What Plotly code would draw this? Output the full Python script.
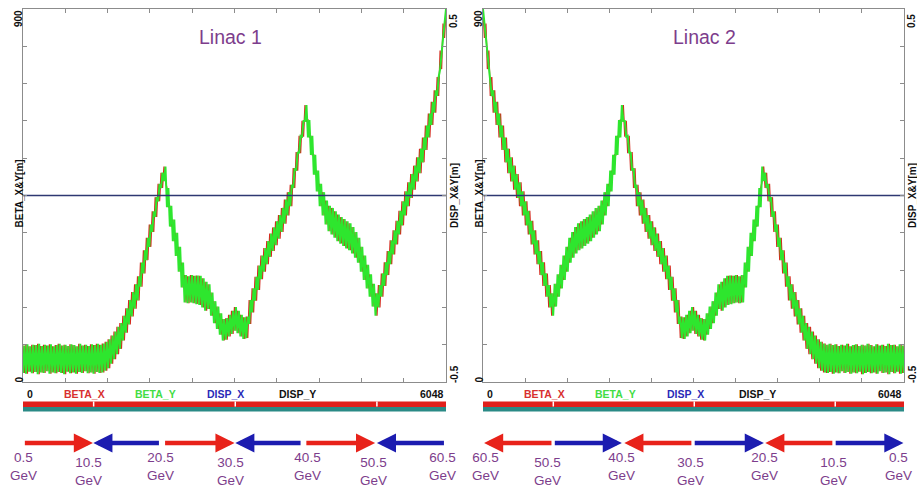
import plotly.graph_objects as go

W, H = 917, 489

# ---------------- data ----------------
S_MAX = 6048
CELL_LENGTH = 42  # FODO cell length [m]

# Linac 1 beta envelope: upper value per cell (at cell start) and lower value per cell (mid-cell)
beta_upper = [88, 91, 86, 90, 89, 92, 87, 90, 88, 91, 86, 89, 92, 88, 90, 87, 91, 89, 86, 92,
              88, 90, 87, 91, 89, 92, 90,
              93, 97, 103, 112, 122, 133, 142,
              160, 178, 198, 217, 236, 255,
              288, 318, 348, 380,
              412, 446, 478, 505, 520,
              468, 425, 392, 360, 326, 288,
              258, 255, 258, 256, 257, 256, 250, 242,
              236, 216, 195, 182, 166, 152,
              154, 162, 172, 181, 172, 162, 156, 158,
              198, 226, 254, 281,
              305, 323, 340, 358,
              373, 388, 403,
              420, 440, 458,
              476, 516, 555, 594,
              630, 668, 632,
              594, 548, 510, 478,
              458, 438,
              425, 420, 412, 404,
              398, 393, 388, 383,
              374, 362,
              348, 326, 305, 283,
              260, 237, 214,
              234, 262, 289, 316, 342,
              366, 389, 413, 436, 460,
              482, 502, 522, 542, 563,
              590, 619, 648, 676,
              704, 736,
              800, 865, 900]

beta_lower = [22, 20, 25, 21, 24, 19, 23, 22, 26, 20, 23, 21, 24, 22, 19, 25, 21, 23, 20, 24,
              22, 26, 21, 23, 20, 24, 22,
              23, 27, 33, 44, 55, 67, 80,
              100, 119, 139, 158, 177, 197,
              230, 262, 294, 326,
              362, 398, 436, 468, 485,
              422, 375, 340, 304, 266, 228,
              192, 190, 192, 190, 188, 186, 180, 172,
              176, 160, 142, 128, 114, 100,
              102, 110, 116, 124, 118, 110, 104, 106,
              140, 168, 196, 222,
              248, 266, 284, 302,
              316, 330, 346,
              362, 382, 402,
              424, 468, 510, 552,
              592, 630, 590,
              548, 500, 460, 424,
              402, 380,
              364, 356, 348, 340,
              334, 328, 322, 318,
              310, 300,
              288, 266, 246, 226,
              206, 182, 160,
              180, 206, 232, 258, 284,
              308, 332, 356, 378, 402,
              424, 444, 464, 484, 504,
              530, 560, 590, 620,
              650, 690,
              755, 830]

disp_s = [0, S_MAX]
disp_x = [0, 0]
disp_y = [0, 0]

panel_titles = ["Linac 1", "Linac 2"]
legend_names = ["BETA_X", "BETA_Y", "DISP_X", "DISP_Y"]
end_labels = ["0", "6048"]

lattice_breaks = [1010, 3035, 5060]

# energy arrows: (tail s, head s, colour key)
arrows_l1 = [(5, 1000, "r"), (1965, 1005, "b"), (2010, 3025, "r"),
             (3990, 3035, "b"), (4030, 5035, "r"), (6040, 5060, "b")]
arrows_l2 = [(1005, 15, "r"), (1010, 1995, "b"), (3015, 2030, "r"),
             (3020, 4035, "b"), (5040, 4055, "r"), (5045, 6040, "b")]

energy_l1 = ["0.5", "10.5", "20.5", "30.5", "40.5", "50.5", "60.5"]
energy_l1_s = [0, 930, 1973, 2960, 4061, 5005, 5992]
energy_l2 = ["60.5", "50.5", "40.5", "30.5", "20.5", "10.5", "0.5"]
energy_l2_s = [29, 920, 1983, 2975, 4038, 5030, 5964]

# ---------------- build lattice-function polylines ----------------
s_vert, bx1, by1 = [], [], []
for k in range(len(beta_lower)):
    s_vert += [k * CELL_LENGTH, k * CELL_LENGTH + CELL_LENGTH / 2]
    bx1 += [beta_upper[k], beta_lower[k]]
    by1 += [beta_lower[k], beta_upper[k]]
s_vert.append(len(beta_lower) * CELL_LENGTH)
bx1.append(beta_upper[-1])
by1.append(beta_upper[-1])
bx2 = bx1[::-1]
by2 = by1[::-1]

# ---------------- styles ----------------
RED = "#d42a1e"
GREEN = "#2ee62e"
NAVY = "#2e3872"
GRAY = "#8c8c8c"
PURPLE = "#7d3d8c"
ARROW_RED = "#e8221a"
ARROW_BLUE = "#1c1cb0"
LEG_COLORS = ["#d83030", "#44dd44", "#2a2ab8", "#111111"]
FONT = "Liberation Sans, Arial, sans-serif"


def px(x):
    return x / W


def py(y):
    return 1 - y / H


fig = go.Figure()

panels = [
    dict(xa="x", ya="y", ya2="y2", bx=bx1, by=by1),
    dict(xa="x2", ya="y3", ya2="y4", bx=bx2, by=by2),
]
for p in panels:
    fig.add_trace(go.Scatter(x=s_vert, y=p["bx"], mode="lines", name="BETA_X",
                             line=dict(color=RED, width=1.3), xaxis=p["xa"], yaxis=p["ya"],
                             showlegend=False, hoverinfo="skip"))
    fig.add_trace(go.Scatter(x=s_vert, y=p["by"], mode="lines", name="BETA_Y",
                             line=dict(color=GREEN, width=2.0), xaxis=p["xa"], yaxis=p["ya"],
                             showlegend=False, hoverinfo="skip"))
    fig.add_trace(go.Scatter(x=disp_s, y=disp_y, mode="lines", name="DISP_Y",
                             line=dict(color="#111111", width=1.2), xaxis=p["xa"], yaxis=p["ya2"],
                             showlegend=False, hoverinfo="skip"))
    fig.add_trace(go.Scatter(x=disp_s, y=disp_x, mode="lines", name="DISP_X",
                             line=dict(color=NAVY, width=1.5), xaxis=p["xa"], yaxis=p["ya2"],
                             showlegend=False, hoverinfo="skip"))

common_x = dict(range=[0, S_MAX], showline=True, linecolor=GRAY, linewidth=1, mirror="ticks",
                ticks="inside", tick0=0, dtick=S_MAX / 10, ticklen=4, tickcolor=GRAY,
                showticklabels=False, showgrid=False, zeroline=False, fixedrange=True)
common_yl = dict(range=[0, 900], showline=True, linecolor=GRAY, linewidth=1,
                 ticks="inside", tick0=0, dtick=90, ticklen=4, tickcolor=GRAY,
                 showticklabels=False, showgrid=False, zeroline=False,
                 domain=[py(382), py(9)])
common_yr = dict(range=[-0.5, 0.5], showline=True, linecolor=GRAY, linewidth=1,
                 ticks="inside", tick0=-0.5, dtick=0.1, ticklen=4, tickcolor=GRAY,
                 showticklabels=False, showgrid=False, zeroline=False, side="right")

panel_px = [(23, 446), (483, 904)]
title_cx = [230, 704]

fig.update_layout(
    width=W, height=H,
    margin=dict(l=0, r=0, t=0, b=0),
    paper_bgcolor="white", plot_bgcolor="white",
    font=dict(family=FONT),
    xaxis=dict(domain=[px(23), px(446)], anchor="y", **common_x),
    yaxis=dict(anchor="x", **common_yl),
    yaxis2=dict(anchor="x", overlaying="y", **common_yr),
    xaxis2=dict(domain=[px(483), px(904)], anchor="y3", **common_x),
    yaxis3=dict(anchor="x2", **common_yl),
    yaxis4=dict(anchor="x2", overlaying="y3", **common_yr),
)

ann = []
shapes = []


def text(x, y, t, size, color="#111111", angle=0, xanchor="center", bold=False, xref="paper"):
    ann.append(dict(x=x, y=py(y), xref=xref, yref="paper", text=("<b>%s</b>" % t) if bold else t,
                    showarrow=False, textangle=angle, xanchor=xanchor, yanchor="middle",
                    font=dict(size=size, color=color, family=FONT)))


leg_offsets = [61, 132, 202, 274]
for i, (x0, x1) in enumerate(panel_px):
    xref = "x" if i == 0 else "x2"
    # title
    text(px(title_cx[i]), 37, panel_titles[i], 19.5, PURPLE)
    # rotated tick labels and axis titles
    lx = x0 - 4.5
    rx = x1 + 8 if i == 0 else 912
    text(px(lx), 18.5, "900", 10, angle=-90, bold=True)
    text(px(lx), 380, "0", 10, angle=-90, bold=True)
    text(px(lx), 194, "BETA_X&amp;Y[m]", 10, angle=-90, bold=True)
    text(px(rx), 21, "0.5", 10, angle=-90, bold=True)
    text(px(rx), 374, "-0.5", 10, angle=-90, bold=True)
    text(px(rx), 196, "DISP_X&amp;Y[m]", 10, angle=-90, bold=True)
    # bottom labels
    text(px(x0 + 2), 393.5, end_labels[0], 10.5, xanchor="left", bold=True)
    text(px(x1), 393.5, end_labels[1], 10.5, xanchor="right", bold=True)
    for name, off, col in zip(legend_names, leg_offsets, LEG_COLORS):
        text(px(x0 + off), 393.5, name, 10.5, color=col, bold=True)
    # lattice bar
    shapes.append(dict(type="rect", xref=xref, yref="paper", x0=0, x1=S_MAX,
                       y0=py(407), y1=py(401.5), fillcolor="#e0201c", line=dict(width=0), layer="above"))
    shapes.append(dict(type="rect", xref=xref, yref="paper", x0=0, x1=S_MAX,
                       y0=py(411.5), y1=py(407), fillcolor="#2a8a86", line=dict(width=0), layer="above"))
    for b in lattice_breaks:
        shapes.append(dict(type="line", xref=xref, yref="paper", x0=b, x1=b,
                           y0=py(406.5), y1=py(401.5), line=dict(color="white", width=1.5), layer="above"))
    # arrows
    arrows = arrows_l1 if i == 0 else arrows_l2
    for tail, head, c in arrows:
        ann.append(dict(x=head, y=py(443), xref=xref, yref="paper", ax=tail, ay=0,
                        axref=xref, ayref="pixel", text="", showarrow=True, arrowhead=2,
                        arrowsize=0.85, arrowwidth=4.5,
                        arrowcolor=ARROW_RED if c == "r" else ARROW_BLUE, standoff=0))
    # energy labels
    labels = energy_l1 if i == 0 else energy_l2
    label_s = energy_l1_s if i == 0 else energy_l2_s
    for j, (lab, s) in enumerate(zip(labels, label_s)):
        yc = 466.5 if j % 2 == 0 else 471
        ann.append(dict(x=s, y=py(yc), xref=xref, yref="paper", text=lab + "<br>GeV",
                        showarrow=False, xanchor="center", yanchor="middle", align="center",
                        font=dict(size=13.5, color=PURPLE, family=FONT)))

fig.update_layout(annotations=ann, shapes=shapes)

fig.write_html("out.html", config={"displayModeBar": False},
               post_script="document.body.style.margin='0';document.body.style.padding='0';")
